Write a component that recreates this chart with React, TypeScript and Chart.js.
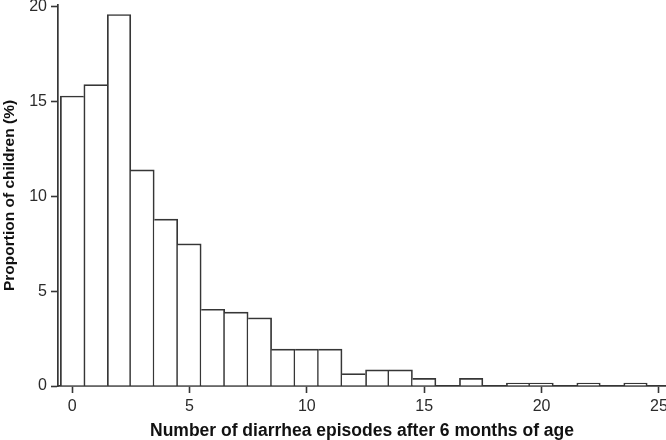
import React, { useEffect, useRef } from "react";
import { Chart, registerables } from "chart.js";

Chart.register(...registerables);

const episodes: number[] = [0, 1, 2, 3, 4, 5, 6, 7, 8, 9, 10, 11, 12, 13, 14, 15, 16, 17, 18, 19, 20, 21, 22, 23, 24];
const proportions: number[] = [15.3, 15.9, 19.6, 11.4, 8.8, 7.5, 4.05, 3.9, 3.6, 1.95, 1.95, 1.95, 0.65, 0.85, 0.85, 0.4, 0, 0.4, 0, 0.15, 0.15, 0, 0.15, 0, 0.15];
const xTicks: number[] = [0, 5, 10, 15, 20, 25];
const yTicks: number[] = [0, 5, 10, 15, 20];
const xTitle = "Number of diarrhea episodes after 6 months of age";
const yTitle = "Proportion of children (%)";

const INK = "#2b2b2b";
const LINE = "#363636";
const FONT = "'Liberation Sans', Arial, sans-serif";
const BW = 1.7;

export default function App() {
  const ref = useRef<HTMLCanvasElement | null>(null);

  useEffect(() => {
    if (!ref.current) return;
    const points = episodes
      .map((x, i) => ({ x, y: proportions[i] }))
      .filter((p) => p.y > 0);
    const valueAt = (x: number) => {
      const i = episodes.indexOf(x);
      return i >= 0 ? proportions[i] : 0;
    };

    const chart = new Chart(ref.current, {
      type: "bar",
      data: {
        datasets: [
          {
            data: points as any,
            backgroundColor: "#ffffff",
            borderColor: LINE,
            borderSkipped: false,
            borderWidth: (ctx: any) => {
              const p = ctx.raw as { x: number; y: number } | undefined;
              if (!p) return BW;
              const prev = valueAt(p.x - 1);
              const next = valueAt(p.x + 1);
              return {
                top: BW,
                bottom: 0,
                left: prev >= p.y ? 0 : BW,
                right: next > p.y ? 0 : BW,
              };
            },
            barPercentage: 1,
            categoryPercentage: 1,
          } as any,
        ],
      },
      options: {
        animation: false,
        responsive: false,
        maintainAspectRatio: false,
        layout: { padding: { top: 5, right: 0, bottom: 0, left: 0 } },
        plugins: { legend: { display: false }, tooltip: { enabled: false } },
        scales: {
          x: {
            type: "linear",
            min: -0.6,
            max: 25.3,
            offset: false,
            grid: {
              display: true,
              offset: false,
              drawOnChartArea: false,
              drawTicks: true,
              tickLength: 7,
              tickWidth: 1.6,
              tickColor: LINE,
            },
            border: { display: true, color: LINE, width: 1.7 },
            ticks: {
              includeBounds: false,
              color: INK,
              padding: 4,
              maxRotation: 0,
              autoSkip: false,
              font: { family: FONT, size: 16 },
            },
            afterBuildTicks: (s: any) => {
              s.ticks = xTicks.map((v) => ({ value: v }));
            },
            afterFit: (s: any) => {
              s.height = 54;
              s.paddingLeft = 0;
              s.paddingRight = 0;
            },
            title: {
              display: true,
              text: xTitle,
              color: "#111",
              padding: { top: 0, bottom: -2 },
              font: { family: FONT, size: 17.5, weight: "bold" },
            },
          },
          y: {
            type: "linear",
            min: 0,
            max: 20.1,
            grid: {
              display: true,
              drawOnChartArea: false,
              drawTicks: true,
              tickLength: 7,
              tickWidth: 1.6,
              tickColor: LINE,
            },
            border: { display: true, color: LINE, width: 1.7 },
            ticks: {
              includeBounds: false,
              color: INK,
              padding: 4,
              font: { family: FONT, size: 16 },
            },
            afterBuildTicks: (s: any) => {
              s.ticks = yTicks.map((v) => ({ value: v }));
            },
            afterFit: (s: any) => {
              s.width = 58;
              s.paddingTop = 0;
              s.paddingBottom = 0;
            },
            title: {
              display: true,
              text: yTitle,
              color: "#111",
              padding: { top: 0, bottom: 0 },
              font: { family: FONT, size: 15.5, weight: "bold" },
            },
          },
        },
      },
    });
    return () => chart.destroy();
  }, []);

  return (
    <div style={{ position: "fixed", left: 0, top: 0, width: 666, height: 440, background: "#fff" }}>
      <canvas ref={ref} width={666} height={440} style={{ width: 666, height: 440, display: "block" }} />
    </div>
  );
}
